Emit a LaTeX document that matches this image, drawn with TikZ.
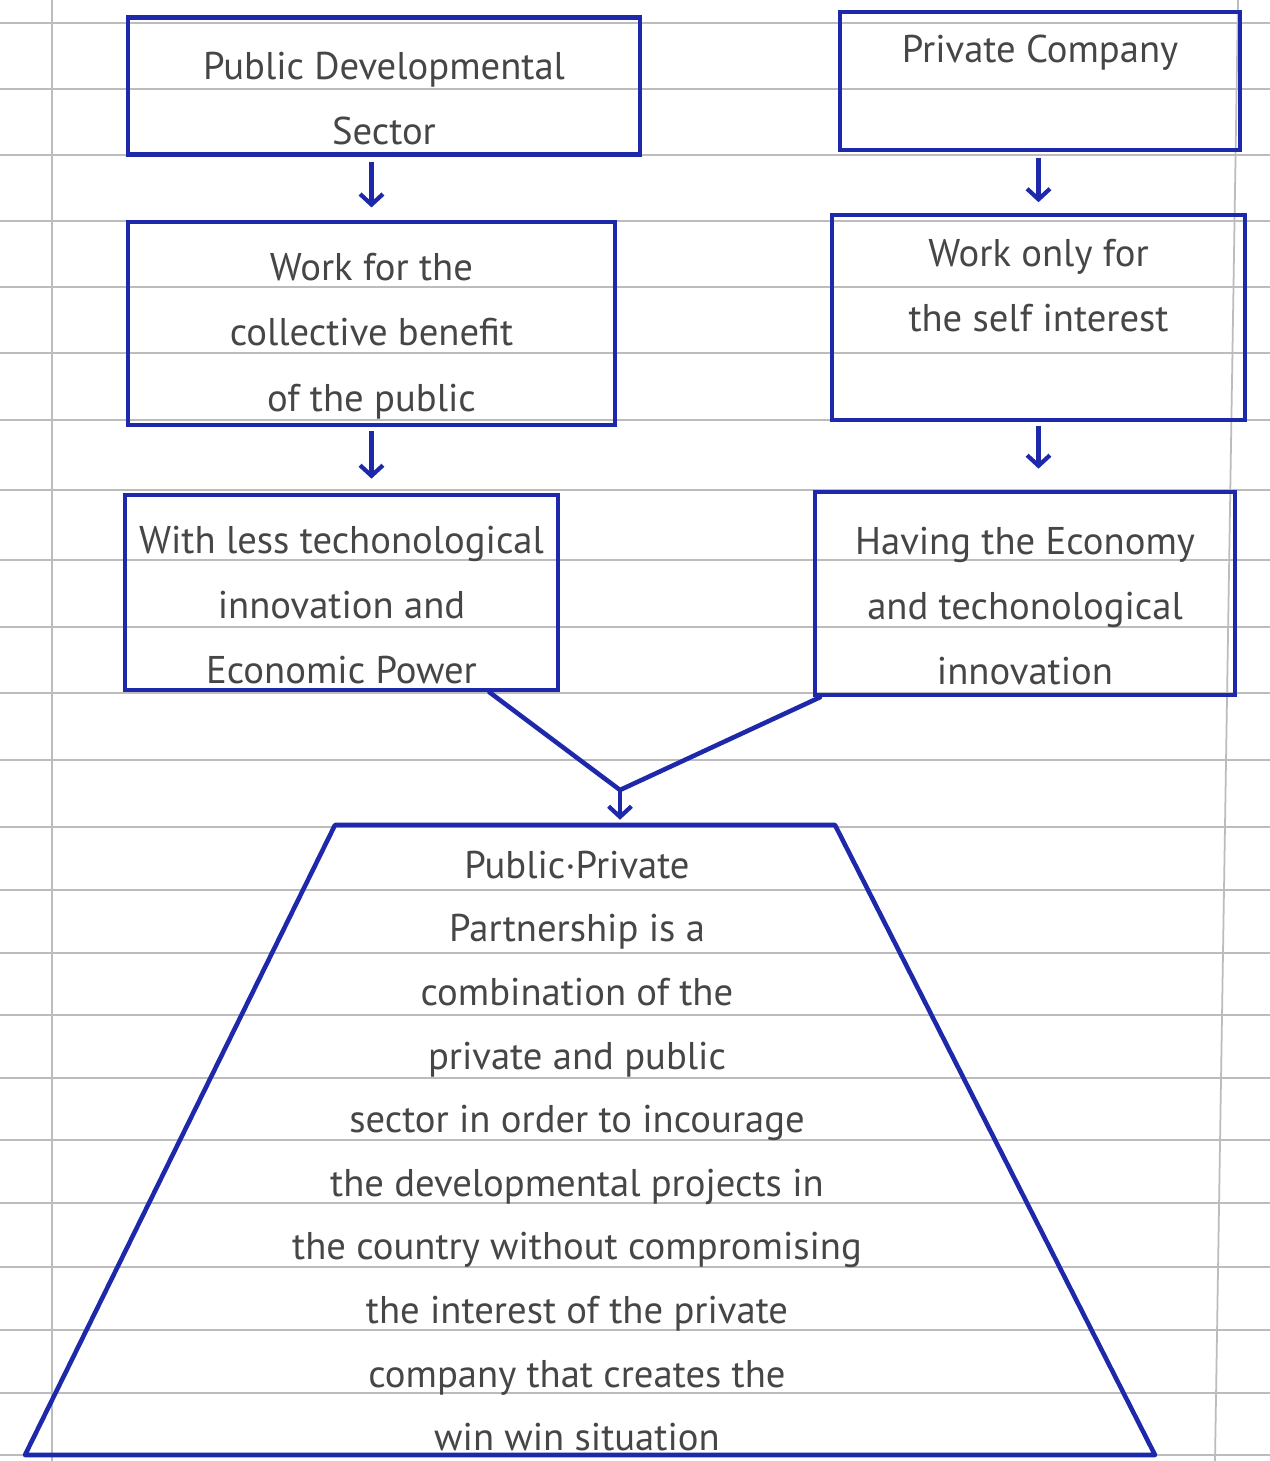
\documentclass[tikz,border=0pt]{standalone}
\usepackage{fontspec}
\setmainfont{PT Sans}
\usetikzlibrary{arrows.meta,calc}
\definecolor{ink}{RGB}{30,40,170}
\definecolor{pencil}{RGB}{70,70,70}
\definecolor{ruling}{RGB}{188,188,188}
\newcommand{\lowstrut}{\rule{0pt}{30pt}}
\begin{document}
\begin{tikzpicture}[x=0.02cm,y=-0.02cm,
  box/.style={draw=ink, line width=2.6pt, inner sep=0pt, align=center, text=pencil,
              font=\fontsize{22}{37}\selectfont},
  conn/.style={draw=ink, line width=2.4pt, -{Straight Barb[length=6pt,width=13pt]}},
  inkline/.style={draw=ink, line width=2.6pt, line cap=round, line join=round},
  ruleline/.style={draw=ruling, line width=0.8pt}]
\useasboundingbox (0,0) rectangle (1270,1461);
\fill[white] (0,0) rectangle (1270,1461);
% ruled paper
\foreach \y in {23,89,155,221,287,353,420,490,560,627,693,760,827,890,953,1015,1078,1140,1203,1267,1330,1393,1455}
  {\draw[ruleline] (0,\y) -- (1270,\y);}
\draw[ruleline, line width=1pt] (52,0) -- (52,1461);
\draw[ruleline, line width=1pt] (1238,0) -- (1215,1461);
% boxes
\node[box, minimum width=10.24cm, minimum height=2.74cm] (b1) at (384,86) {\lowstrut Public Developmental\\Sector};
\node[box, minimum width=8.0cm, minimum height=2.76cm] (b2) at (1040,81) {Private Company\\\mbox{}};
\node[box, minimum width=9.74cm, minimum height=4.06cm] (b3) at (371.5,323.5) {\lowstrut Work for the\\collective benefit\\of the public};
\node[box, minimum width=8.26cm, minimum height=4.10cm] (b4) at (1038.5,317.5) {Work only for\\the self interest\\\mbox{}};
\node[box, minimum width=8.66cm, minimum height=3.90cm] (b5) at (341.5,592.5) {\lowstrut With less techonological\\innovation and\\Economic Power};
\node[box, minimum width=8.40cm, minimum height=4.06cm] (b6) at (1025,593.5) {\lowstrut Having the Economy\\and techonological\\innovation};
% connectors
\draw[conn, shorten <=3pt, shorten >=7pt] (b1.south -| b3.north) -- (b3.north);
\draw[conn, shorten <=3pt, shorten >=6pt] (b2.south -| b4.north) -- (b4.north);
\draw[conn, shorten <=2pt, shorten >=8pt] (b3.south) -- (b3.south |- b5.north);
\draw[conn, shorten <=2pt, shorten >=12pt] (b4.south) -- (b4.south |- b6.north);
% trapezoid
\coordinate (tl) at (335,825);
\coordinate (tr) at (835,825);
\coordinate (br) at (1155,1455);
\coordinate (bl) at (25,1455);
\draw[inkline] (tl) -- (tr) -- (br) -- (bl) -- cycle;
% merging connector
\coordinate (m) at (620,790);
\draw[inkline] ($(b5.south)+(148,0)$) -- (m);
\draw[inkline] ($(b6.south)+(-205,0)$) -- (m);
\draw[conn, shorten >=3pt] (m) -- (m |- tl);
% text of the trapezoid
\node[text=pencil, align=center, inner sep=0pt, font=\fontsize{22}{36.2}\selectfont] (ppp) at (577,1151)
  {Public·Private\\Partnership is a\\combination of the\\private and public\\sector in order to incourage\\the developmental projects in\\the country without compromising\\the interest of the private\\company that creates the\\win win situation};
\end{tikzpicture}
\end{document}
